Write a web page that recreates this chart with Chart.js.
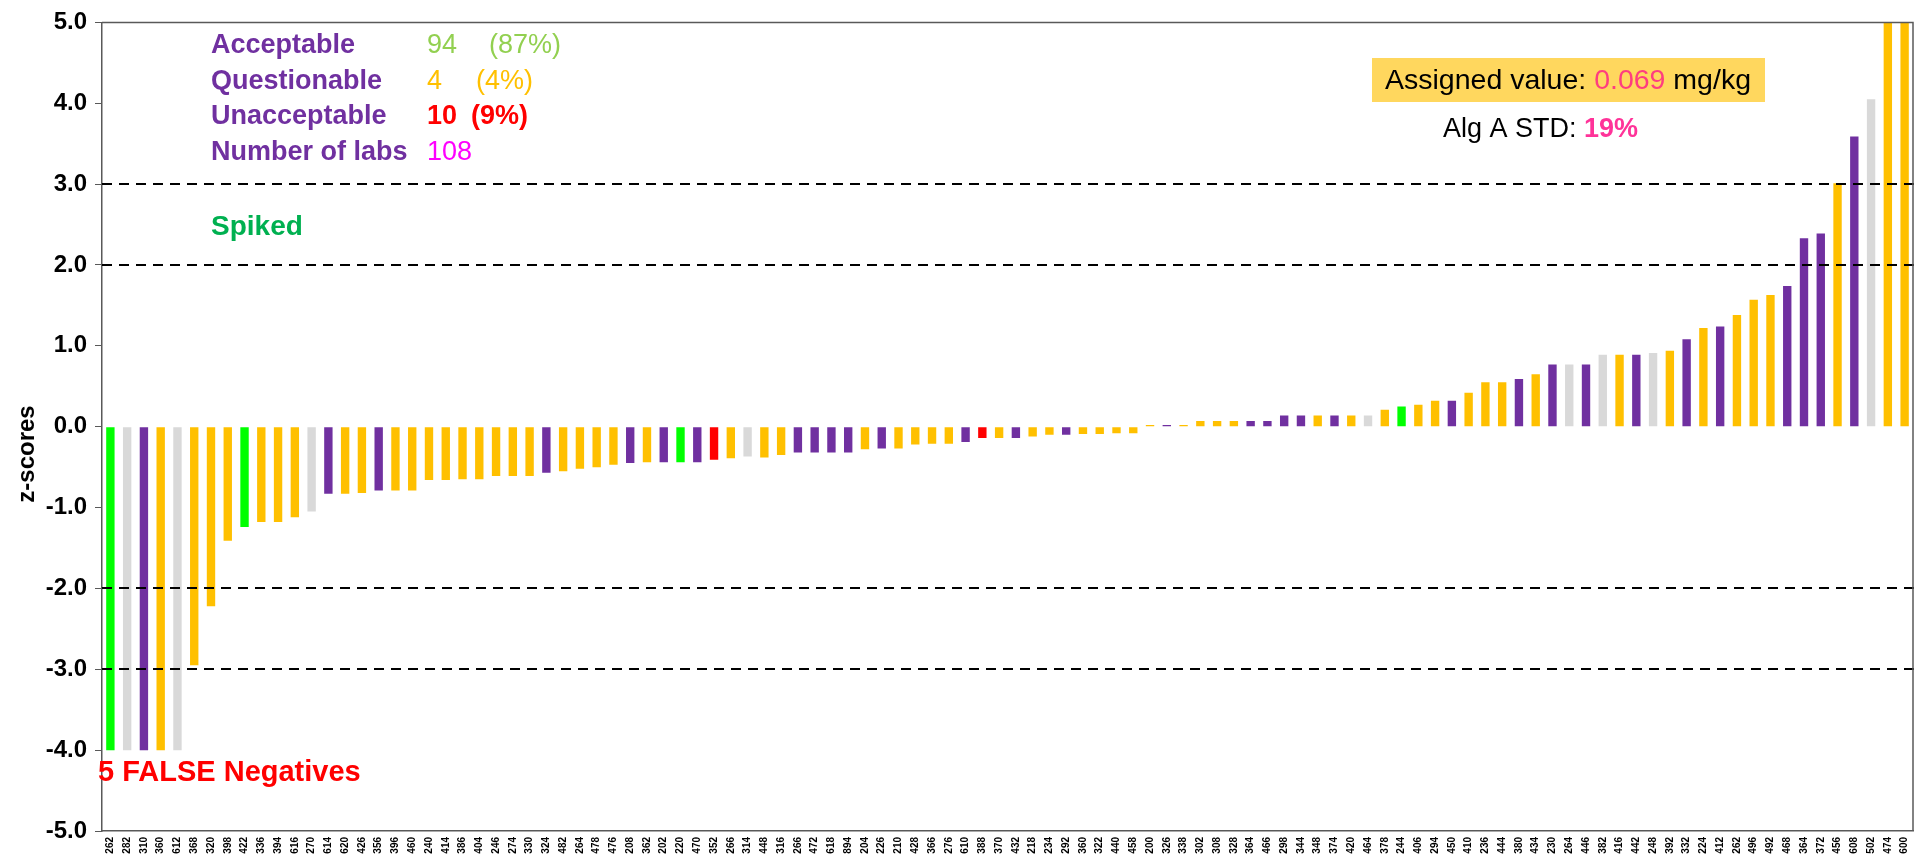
<!DOCTYPE html>
<html>
<head>
<meta charset="utf-8">
<script src="https://cdn.jsdelivr.net/npm/chart.js@4.4.1/dist/chart.umd.min.js"></script>
<style>
  html, body { margin: 0; padding: 0; background: #fff; }
</style>
</head>
<body>
<canvas id="zchart" width="1926" height="861"></canvas>
<script>
// lab codes, left to right
const labs = [
  '262', '282', '310', '360', '612', '368', '320', '398', '422', '336', '394', '616', '270', '614', '620', '426', '356', '396',
  '460', '240', '414', '386', '404', '246', '274', '330', '324', '482', '264', '478', '476', '208', '362', '202', '220', '470',
  '352', '266', '314', '448', '316', '266', '472', '618', '894', '204', '226', '210', '428', '366', '276', '610', '388', '370',
  '432', '218', '234', '292', '360', '322', '440', '458', '200', '326', '338', '302', '308', '328', '364', '466', '298',
  '344', '348', '374', '420', '464', '378', '244', '406', '294', '450', '410', '236', '444', '380', '434', '230', '264', '446',
  '382', '416', '442', '248', '392', '332', '224', '412', '262', '496', '492', '468', '364', '372', '456', '608', '502', '474', '600'
];

// z-scores (false negatives shown at -4, off-scale results at 5)
const zScores = [
  -4.0, -4.0, -4.0, -4.0, -4.0, -2.95, -2.22, -1.41, -1.24, -1.18, -1.18, -1.12, -1.05, -0.83, -0.83, -0.82, -0.79, -0.79,
  -0.79, -0.66, -0.66, -0.65, -0.65, -0.61, -0.61, -0.61, -0.57, -0.55, -0.52, -0.50, -0.47, -0.45, -0.44, -0.44, -0.44, -0.44,
  -0.41, -0.39, -0.37, -0.38, -0.35, -0.32, -0.32, -0.32, -0.32, -0.28, -0.27, -0.27, -0.22, -0.21, -0.21, -0.19, -0.14, -0.14,
  -0.14, -0.12, -0.10, -0.10, -0.09, -0.09, -0.08, -0.08, 0.02, 0.02, 0.02, 0.07, 0.07, 0.07, 0.07, 0.07, 0.14,
  0.14, 0.14, 0.14, 0.14, 0.14, 0.21, 0.25, 0.27, 0.32, 0.32, 0.42, 0.55, 0.55, 0.59, 0.65, 0.77, 0.77, 0.77,
  0.89, 0.89, 0.89, 0.91, 0.94, 1.08, 1.22, 1.24, 1.38, 1.57, 1.63, 1.74, 2.33, 2.39, 3.01, 3.59, 4.05, 5.0, 5.0
];

// bar group: O orange, P purple, L light grey, G green (spiked), R red
const groups = [
  'G', 'L', 'P', 'O', 'L', 'O', 'O', 'O', 'G', 'O', 'O', 'O', 'L', 'P', 'O', 'O', 'P', 'O',
  'O', 'O', 'O', 'O', 'O', 'O', 'O', 'O', 'P', 'O', 'O', 'O', 'O', 'P', 'O', 'P', 'G', 'P',
  'R', 'O', 'L', 'O', 'O', 'P', 'P', 'P', 'P', 'O', 'P', 'O', 'O', 'O', 'O', 'P', 'R', 'O',
  'P', 'O', 'O', 'P', 'O', 'O', 'O', 'O', 'O', 'P', 'O', 'O', 'O', 'O', 'P', 'P', 'P',
  'P', 'O', 'P', 'O', 'L', 'O', 'G', 'O', 'O', 'P', 'O', 'O', 'O', 'P', 'O', 'P', 'L', 'P',
  'L', 'O', 'P', 'L', 'O', 'P', 'O', 'P', 'O', 'O', 'O', 'P', 'P', 'P', 'O', 'P', 'L', 'O', 'O'
];

const yTicks = [-5, -4, -3, -2, -1, 0, 1, 2, 3, 4, 5];
const limitLines = [-3, -2, 2, 3];

const palette = { O: '#FFC000', P: '#7030A0', L: '#D9D9D9', G: '#00FF00', R: '#FF0000' };
const FONT = 'Arial, "Liberation Sans", sans-serif';
Chart.defaults.font.family = FONT;

// frame, limit lines and text boxes
const overlay = {
  id: 'overlay',
  afterDatasetsDraw(chart) {
    const { ctx, chartArea: a, scales: { y } } = chart;
    ctx.save();
    ctx.strokeStyle = '#000';
    ctx.lineWidth = 2;
    ctx.setLineDash([10, 7]);
    limitLines.forEach(v => {
      const py = Math.round(y.getPixelForValue(v));
      ctx.beginPath();
      ctx.moveTo(a.left, py);
      ctx.lineTo(a.right + 4, py);
      ctx.stroke();
    });
    ctx.setLineDash([]);
    ctx.strokeStyle = '#595959';
    ctx.lineWidth = 1.5;
    ctx.beginPath();
    ctx.moveTo(a.left, a.top);
    ctx.lineTo(a.right, a.top);
    ctx.lineTo(a.right, a.bottom);
    ctx.stroke();

    const put = (txt, x, yy, color, weight, size) => {
      ctx.font = `${weight} ${size}px ${FONT}`;
      ctx.fillStyle = color;
      ctx.textBaseline = 'middle';
      ctx.fillText(txt, x, yy);
      return x + ctx.measureText(txt).width;
    };

    // y axis title, a bit below the middle as in the original
    ctx.save();
    ctx.translate(27, 454);
    ctx.rotate(-Math.PI / 2);
    ctx.textAlign = 'center';
    put('z-scores', 0, 0, '#000', 'bold', 24);
    ctx.restore();

    const purple = '#7030A0';
    put('Acceptable', 211, 46, purple, 'bold', 27);
    put('94', 427, 46, '#92D050', 'normal', 27);
    put('(87%)', 489, 46, '#92D050', 'normal', 27);
    put('Questionable', 211, 82, purple, 'bold', 27);
    put('4', 427, 82, '#FFC000', 'normal', 27);
    put('(4%)', 476, 82, '#FFC000', 'normal', 27);
    put('Unacceptable', 211, 117, purple, 'bold', 27);
    put('10', 427, 117, '#FF0000', 'bold', 27);
    put('(9%)', 471, 117, '#FF0000', 'bold', 27);
    put('Number of labs', 211, 153, purple, 'bold', 27);
    put('108', 427, 153, '#FF00FF', 'normal', 27);
    put('Spiked', 211, 227, '#00B050', 'bold', 28);
    put('5 FALSE Negatives', 98, 773, '#FF0000', 'bold', 29);

    ctx.fillStyle = '#FFD75E';
    ctx.fillRect(1372, 58, 393, 44);
    let x = put('Assigned value: ', 1385, 81, '#000', 'normal', 28.5);
    x = put('0.069', x, 81, '#FF3D7F', 'normal', 28.5);
    put(' mg/kg', x, 81, '#000', 'normal', 28.5);

    x = put('Alg A STD: ', 1443, 130, '#000', 'normal', 27);
    put('19%', x, 130, '#FF3399', 'bold', 27);
    ctx.restore();
  }
};

new Chart(document.getElementById('zchart'), {
  type: 'bar',
  data: {
    labels: labs,
    datasets: [{
      data: zScores,
      backgroundColor: groups.map(g => palette[g]),
      borderWidth: 0,
      barPercentage: 0.5,
      categoryPercentage: 1.0
    }]
  },
  options: {
    responsive: false,
    animation: false,
    devicePixelRatio: 1,
    layout: { padding: { top: 17, right: 13, left: 0, bottom: 0 } },
    plugins: { legend: { display: false }, tooltip: { enabled: false } },
    scales: {
      x: {
        grid: { display: false, drawTicks: false },
        border: { display: true, color: '#595959', width: 1.5 },
        ticks: {
          autoSkip: false, maxRotation: 90, minRotation: 90,
          font: { size: 10, weight: 'bold' }, color: '#000', padding: 6
        },
        afterFit: s => { s.height = 30; }
      },
      y: {
        min: -5, max: 5,
        afterBuildTicks: s => { s.ticks = yTicks.map(v => ({ value: v })); },
        ticks: {
          callback: v => v.toFixed(1),
          font: { size: 24, weight: 'bold' }, color: '#000', padding: 8
        },
        grid: { drawOnChartArea: false, drawTicks: true, tickLength: 7, color: '#595959' },
        border: { color: '#595959', width: 1.5 },
        afterFit: s => { s.width = 102; }
      }
    }
  },
  plugins: [overlay]
});
</script>
</body>
</html>
